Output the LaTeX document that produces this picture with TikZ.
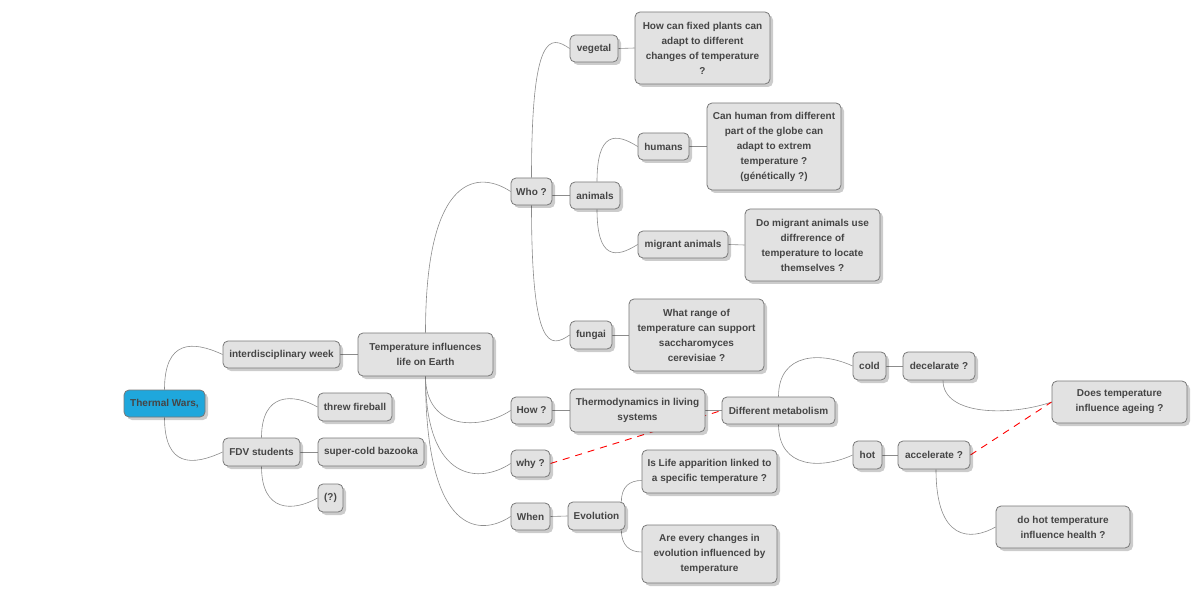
\documentclass[tikz,border=0pt]{standalone}
\usepackage{fontspec}
\setmainfont{Liberation Sans}
\usepackage{xcolor}
\usepackage{tikz}
\usetikzlibrary{shapes,arrows,positioning,shadows,backgrounds}
\definecolor{boxfill}{HTML}{E2E2E2}
\definecolor{boxline}{HTML}{787878}
\definecolor{rootfill}{HTML}{1FA7DC}
\definecolor{textgray}{HTML}{454545}
\definecolor{wiregray}{HTML}{8C8C8C}

\begin{document}
\begin{tikzpicture}[x=1pt,y=-1pt,
    idea/.style={draw=boxline,line width=0.8pt,fill=boxfill,rounded corners=5pt,inner sep=0pt,
      align=center,text=textgray,font=\bfseries\fontsize{10}{15}\selectfont,
      drop shadow={shadow xshift=3pt,shadow yshift=-3pt,opacity=0.2,fill=black}},
    root/.style={idea,fill=rootfill},
    wire/.style={draw=wiregray,line width=0.6pt},
    link/.style={draw=red,line width=0.9pt,dash pattern=on 7pt off 6pt}]
    \useasboundingbox (0,0) rectangle (1200,596);

    \node[root,minimum width=81pt,minimum height=27pt] (thermal) at (164.5,403.5) {Thermal Wars,};
    \node[idea,minimum width=117pt,minimum height=27pt] (week) at (281.5,354.5) {interdisciplinary week};
    \node[idea,minimum width=135pt,minimum height=43pt] (life) at (425.5,354.5) {Temperature influences\\life on Earth};
    \node[idea,minimum width=77pt,minimum height=28pt] (fdv) at (261.5,452) {FDV students};
    \node[idea,minimum width=74pt,minimum height=28pt] (fireball) at (355,407) {threw fireball};
    \node[idea,minimum width=106pt,minimum height=28pt] (bazooka) at (371,452) {super-cold bazooka};
    \node[idea,minimum width=25pt,minimum height=28pt] (unknown) at (330.5,498) {(?)};
    \node[idea,minimum width=41pt,minimum height=27pt] (who) at (531.5,191.5) {Who ?};
    \node[idea,minimum width=48pt,minimum height=27pt] (vegetal) at (594,48.5) {vegetal};
    \node[idea,minimum width=135pt,minimum height=72pt] (plantsq) at (702.5,48) {How can fixed plants can\\adapt to different\\changes of temperature\\?};
    \node[idea,minimum width=50pt,minimum height=27pt] (animals) at (595,195.5) {animals};
    \node[idea,minimum width=51pt,minimum height=27pt] (humans) at (663.5,146.5) {humans};
    \node[idea,minimum width=134pt,minimum height=87pt] (humansq) at (774,146.5) {Can human from different\\part of the globe can\\adapt to extrem\\temperature ?\\(génétically ?)};
    \node[idea,minimum width=90pt,minimum height=27pt] (migrant) at (683,244.5) {migrant animals};
    \node[idea,minimum width=135pt,minimum height=72pt] (migrantq) at (812.5,245) {Do migrant animals use\\diffrerence of\\temperature to locate\\themselves ?};
    \node[idea,minimum width=42pt,minimum height=28pt] (fungai) at (591,335) {fungai};
    \node[idea,minimum width=135pt,minimum height=72pt] (fungaiq) at (696.5,335) {What range of\\temperature can support\\saccharomyces\\cerevisiae ?};
    \node[idea,minimum width=41pt,minimum height=27pt] (how) at (531.5,410.5) {How ?};
    \node[idea,minimum width=135pt,minimum height=43pt] (thermo) at (637.5,410.5) {Thermodynamics in living\\systems};
    \node[idea,minimum width=113pt,minimum height=27pt] (metab) at (778.5,410.5) {Different metabolism};
    \node[idea,minimum width=33pt,minimum height=28pt] (cold) at (869.5,366) {cold};
    \node[idea,minimum width=72pt,minimum height=28pt] (decel) at (939,366) {decelarate ?};
    \node[idea,minimum width=135pt,minimum height=42pt] (ageing) at (1119.5,402) {Does temperature\\influence ageing ?};
    \node[idea,minimum width=29pt,minimum height=28pt] (hot) at (867.5,455) {hot};
    \node[idea,minimum width=72pt,minimum height=28pt] (accel) at (934,455) {accelerate ?};
    \node[idea,minimum width=134pt,minimum height=42pt] (health) at (1063,527) {do hot temperature\\influence health ?};
    \node[idea,minimum width=39pt,minimum height=27pt] (why) at (530.5,463.5) {why ?};
    \node[idea,minimum width=39pt,minimum height=27pt] (when) at (530.5,516.5) {When};
    \node[idea,minimum width=57pt,minimum height=28pt] (evolution) at (596.5,516) {Evolution};
    \node[idea,minimum width=135pt,minimum height=43pt] (originq) at (709.5,471.5) {Is Life apparition linked to\\a specific temperature ?};
    \node[idea,minimum width=135pt,minimum height=58pt] (changesq) at (709.5,554) {Are every changes in\\evolution influenced by\\temperature};

    \begin{scope}[on background layer]
    \draw[wire] (thermal.north) .. controls +(0,-50) and +(-30,-14) .. (week.west);
    \draw[wire] (thermal.south) .. controls +(0,50) and +(-30,14) .. (fdv.west);
    \draw[wire] (week.east) -- (life.west);
    \draw[wire] (life.north) .. controls +(0,-163) and +(-30,-20) .. (who.west);
    \draw[wire] (life.south) .. controls +(0,54) and +(-30,20) .. (how.west);
    \draw[wire] (life.south) .. controls +(0,107) and +(-30,20) .. (why.west);
    \draw[wire] (life.south) .. controls +(0,160) and +(-30,20) .. (when.west);
    \draw[wire] (fdv.north) .. controls +(0,-45) and +(-25,-14) .. (fireball.west);
    \draw[wire] (fdv.east) -- (bazooka.west);
    \draw[wire] (fdv.south) .. controls +(0,46) and +(-25,14) .. (unknown.west);
    \draw[wire] (who.north) .. controls +(0,-144) and +(-20,-14) .. (vegetal.west);
    \draw[wire] (animals.west -| who.east) -- (animals.west);
    \draw[wire] (who.south) .. controls +(0,144) and +(-20,14) .. (fungai.west);
    \draw[wire] ([xshift=2pt]animals.north) .. controls +(0,-50) and +(-22,-14) .. (humans.west);
    \draw[wire] ([xshift=2pt]animals.south) .. controls +(0,50) and +(-22,14) .. (migrant.west);
    \draw[wire] (vegetal.east) -- (plantsq.west);
    \draw[wire] (humans.east) -- (humansq.west);
    \draw[wire] (migrant.east) -- (migrantq.west);
    \draw[wire] (fungai.east) -- (fungaiq.west);
    \draw[wire] (how.east) -- (thermo.west);
    \draw[wire] (thermo.east) -- (metab.west);
    \draw[wire] (metab.north) .. controls +(0,-45) and +(-30,-14) .. (cold.west);
    \draw[wire] (metab.south) .. controls +(0,45) and +(-30,14) .. (hot.west);
    \draw[wire] (cold.east) -- (decel.west);
    \draw[wire] (hot.east) -- (accel.west);
    \draw[wire] ([xshift=4pt]decel.south) .. controls +(0,36) and +(-40,14) .. (ageing.west);
    \draw[wire] ([xshift=2pt]accel.south) .. controls +(0,72) and +(-25,14) .. (health.west);
    \draw[wire] (when.east) -- (evolution.west);
    \draw[wire] ([xshift=-4pt]evolution.north east) .. controls +(0,-15) and +(-12,0) .. ([yshift=-9pt]originq.west);
    \draw[wire] ([xshift=-4pt]evolution.south east) .. controls +(0,15) and +(-12,0) .. ([yshift=2pt]changesq.west);
    \draw[link] (why.east) -- (metab.west);
    \draw[link] (accel.east) -- (ageing.west);
    \end{scope}
\end{tikzpicture}
\end{document}
